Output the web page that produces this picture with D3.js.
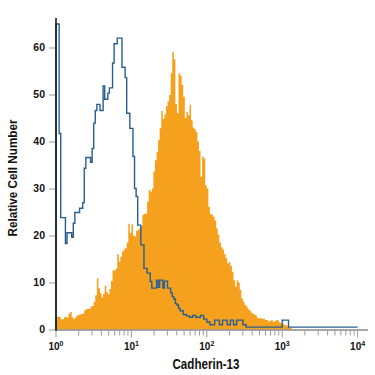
<!DOCTYPE html>
<html>
<head>
<meta charset="utf-8">
<script src="https://cdn.jsdelivr.net/npm/d3@7"></script>
<style>
  body { margin: 0; background: #ffffff; }
  svg { display: block; }
</style>
</head>
<body>
<div class="chart"></div>
<script>
// Channels are binned on a log axis, 48 bins per decade, starting at 10^0.
const binsPerDecade = 48;

// Isotype control (blue outline), one count per bin.
const isotypeCounts = [
  65, 65, 41.7, 23.8, 23.8, 23.8, 18.3, 20.6, 20.6, 20.6,
  19.6, 22.6, 24.9, 24.9, 24.9, 25.8, 25.8, 27, 34.3, 36.6,
  36.6, 36.6, 35.6, 38.5, 43.9, 46.6, 47.9, 47.9, 46.6, 46.6,
  51.8, 49, 49, 50.3, 51.4, 51.4, 56.7, 60.8, 60.8, 62,
  62, 62, 55.8, 55.8, 53.6, 46, 46, 42.8, 42.8, 36.8,
  30, 28.3, 22.2, 22.2, 18, 18, 13, 13, 12, 12,
  10.2, 8.8, 8.8, 8.8, 10.5, 9, 10.5, 10.5, 8.8, 10.3,
  10.3, 8.8, 8.8, 7.8, 7, 6.5, 5.5, 5.2, 4.5, 4,
  4, 3.2, 3.2, 2.9, 2.9, 2.6, 2.6, 3, 3, 2.6,
  2.6, 2.6, 3, 3, 2.2, 2.2, 1.6, 1.6, 1, 1,
  1, 2, 2, 2, 1, 1, 2, 2, 2, 1,
  1, 2, 2, 1, 1, 2, 2, 2, 2, 1,
  1, 0.5, 0.5, 0.5, 0.5, 0.5, 0.5, 0.5, 0.5, 0.5,
  0.5, 0.5, 0.5, 0.5, 0.5, 0.5, 0.5, 0.5, 0.5, 0.5,
  0.5, 0.5, 0.5, 0.5, 2, 2, 2, 2, 0.5, 0.5,
  0.5, 0.5, 0.5, 0.5, 0.5, 0.5, 0.5, 0.5, 0.5, 0.5,
  0.5, 0.5, 0.5, 0.5, 0.5, 0.5, 0.5, 0.5, 0.5, 0.5,
  0.5, 0.5, 0.5, 0.5, 0.5, 0.5, 0.5, 0.5, 0.5, 0.5,
  0.5, 0.5, 0.5, 0.5, 0.5, 0.5, 0.5, 0.5, 0.5, 0.5,
  0.5, 0.5
];

// Cadherin-13 stained cells (orange fill), one count per bin.
const cadherinCounts = [
  2.7, 2.7, 2.7, 2.2, 2.2, 2.6, 2.7, 2.5, 3.4, 3.7,
  2.6, 2.3, 2.5, 3.0, 3.1, 3.2, 3.3, 3.4, 4.1, 4.3,
  4.4, 4.4, 4.9, 5.0, 5.9, 7.3, 10.9, 8.8, 7.7, 6.8,
  7.6, 9.3, 8.0, 7.5, 8.6, 10.3, 12.6, 12.5, 13.0, 16.0,
  14.4, 15.5, 16.6, 17.0, 17.3, 18.5, 22.5, 20.5, 22.4, 20.0,
  19.8, 21.0, 21.2, 21.5, 22.0, 24.4, 24.6, 24.7, 27.2, 29.7,
  29.3, 30.0, 33.6, 36.0, 37.8, 40.3, 42.8, 46.5, 44.8, 45.8,
  47.5, 48.5, 49.9, 54.5, 59.1, 57.5, 48.0, 46.0, 54.5, 54.0,
  52.0, 49.5, 45.0, 46.3, 45.6, 47.8, 44.5, 43.0, 42.6, 42.0,
  40.0, 38.0, 32.5, 36.8, 36.4, 30.7, 30.0, 26.1, 24.6, 24.4,
  24.0, 23.2, 21.5, 20.2, 18.5, 17.5, 17.0, 16.0, 15.2, 14.1,
  14.3, 13.5, 12.3, 10.5, 9.1, 10.5, 10.0, 8.4, 6.6, 5.9,
  5.2, 4.9, 4.3, 4.1, 3.6, 3.4, 3.2, 3.0, 2.4, 2.4,
  2.4, 2.3, 2.3, 2.0, 2.0, 1.7, 1.8, 2.0, 1.6, 1.8,
  2.0, 1.9, 1.5, 1.3, 1.2, 1.0, 0.9, 0.7, 0.6, 0.3
];

const yTicks = [0, 10, 20, 30, 40, 50, 60];
const xDecades = [0, 1, 2, 3, 4];
const xTitle = "Cadherin-13";
const yTitle = "Relative Cell Number";

const width = 375, height = 375;
const fontFamily = "'Liberation Sans', Arial, sans-serif";

const svg = d3.select(".chart")
  .append("svg")
  .attr("width", width)
  .attr("height", height)
  .attr("viewBox", [0, 0, width, height]);

const x = d3.scaleLog().domain([1, 1e4]).range([56, 357.6]);
const y = d3.scaleLinear().domain([0, 66]).range([329.5, 19.3]);

// Lower edge of a bin, in fluorescence units.
const edge = i => Math.pow(10, i / binsPerDecade);

// Orange filled histogram.
const orangePts = cadherinCounts.map((v, i) => [edge(i), v]);
orangePts.push([edge(cadherinCounts.length), cadherinCounts[cadherinCounts.length - 1]]);
const area = d3.area()
  .x(d => x(d[0]))
  .y0(y(0))
  .y1(d => y(d[1]))
  .curve(d3.curveStepAfter);
svg.append("path")
  .datum(orangePts)
  .attr("fill", "#f6a11e")
  .attr("d", area);

// Blue outline histogram, starting from the baseline.
const bluePts = [[edge(0), 0]].concat(isotypeCounts.map((v, i) => [edge(i), v]));
bluePts.push([edge(isotypeCounts.length), isotypeCounts[isotypeCounts.length - 1]]);
const line = d3.line()
  .x(d => x(d[0]))
  .y(d => y(d[1]))
  .curve(d3.curveStepAfter);
svg.append("path")
  .datum(bluePts)
  .attr("fill", "none")
  .attr("stroke", "#285f8f")
  .attr("stroke-width", 1.4)
  .attr("d", line);

// X axis: grey baseline that runs a bit past 10^4, minor and major ticks.
svg.append("line")
  .attr("x1", 56).attr("x2", 368)
  .attr("y1", y(0) + 0.5).attr("y2", y(0) + 0.5)
  .attr("stroke", "#8a8a8a")
  .attr("stroke-width", 1.5);
const majors = xDecades.map(k => Math.pow(10, k));
const minors = x.ticks().filter(t => !majors.includes(t));
const xAxisG = svg.append("g").attr("transform", `translate(0, ${y(0) + 1})`);
xAxisG.selectAll(".minorTick")
  .data(minors)
  .join("line")
  .attr("class", "minorTick")
  .attr("x1", d => x(d)).attr("x2", d => x(d))
  .attr("y1", 0).attr("y2", 5)
  .attr("stroke", "#9a9a9a");
xAxisG.selectAll(".majorTick")
  .data(majors)
  .join("line")
  .attr("class", "majorTick")
  .attr("x1", d => x(d)).attr("x2", d => x(d))
  .attr("y1", 0).attr("y2", 7)
  .attr("stroke", "#9a9a9a");
const xLabels = svg.selectAll(".xLabel")
  .data(xDecades)
  .join("text")
  .attr("class", "xLabel")
  .attr("x", k => x(Math.pow(10, k)))
  .attr("y", 349.5)
  .attr("text-anchor", "middle")
  .attr("font-family", fontFamily)
  .attr("font-weight", "bold")
  .attr("font-size", "10px")
  .attr("fill", "#111111");
xLabels.append("tspan").text("10");
xLabels.append("tspan")
  .attr("dy", -4)
  .attr("font-size", "7px")
  .text(k => k);

// Y axis: black line, grey ticks, bold labels.
const yAxisG = svg.append("g")
  .attr("transform", "translate(56, 0)")
  .call(d3.axisLeft(y).tickValues(yTicks).tickSize(7).tickPadding(4));
yAxisG.select(".domain").remove();
yAxisG.selectAll(".tick line").attr("stroke", "#9a9a9a");
yAxisG.selectAll(".tick text")
  .attr("font-family", fontFamily)
  .attr("font-weight", "bold")
  .attr("font-size", "10.5px")
  .attr("fill", "#111111");
svg.append("line")
  .attr("x1", 56).attr("x2", 56)
  .attr("y1", 18).attr("y2", y(0) + 1.2)
  .attr("stroke", "#111111")
  .attr("stroke-width", 1.5);

// Axis titles, squeezed to the condensed look of the original.
svg.append("text")
  .attr("x", 206)
  .attr("y", 368.5)
  .attr("text-anchor", "middle")
  .attr("font-family", fontFamily)
  .attr("font-weight", "bold")
  .attr("font-size", "14px")
  .attr("textLength", 67)
  .attr("lengthAdjust", "spacingAndGlyphs")
  .attr("fill", "#111111")
  .text(xTitle);
svg.append("text")
  .attr("transform", "translate(16.7, 178) rotate(-90)")
  .attr("text-anchor", "middle")
  .attr("font-family", fontFamily)
  .attr("font-weight", "bold")
  .attr("font-size", "13.5px")
  .attr("textLength", 117)
  .attr("lengthAdjust", "spacingAndGlyphs")
  .attr("fill", "#111111")
  .text(yTitle);
</script>
</body>
</html>
